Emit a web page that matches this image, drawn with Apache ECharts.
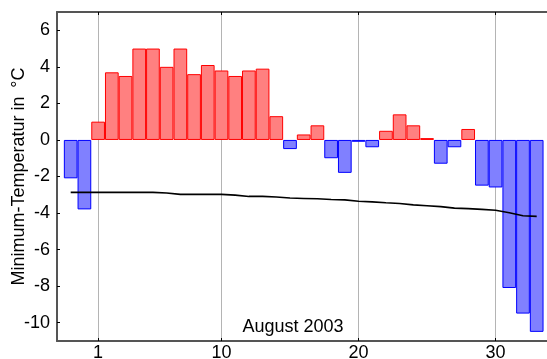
<!DOCTYPE html>
<html>
<head>
<meta charset="utf-8">
<script src="https://cdn.jsdelivr.net/npm/echarts@6/dist/echarts.min.js"></script>
<style>
html,body{margin:0;padding:0;background:#fff;}
#chart{width:547px;height:359px;}
</style>
</head>
<body>
<div id="chart"></div>
<script>
// Days (-1 = 30 July, 0 = 31 July, 1..31 August, 32..33 = 1..2 September)
const days = [-1,0,1,2,3,4,5,6,7,8,9,10,11,12,13,14,15,16,17,18,19,20,21,22,23,24,25,26,27,28,29,30,31,32,33];
// Daily minimum temperature anomaly (°C)
const minTemp = [-2.1,-3.8,1.0,3.7,3.5,5.0,5.0,4.0,5.0,3.6,4.1,3.8,3.5,3.8,3.9,1.3,-0.5,0.3,0.8,-1.0,-1.8,-0.1,-0.4,0.5,1.4,0.8,0.1,-1.3,-0.4,0.6,-2.5,-2.6,-8.1,-9.5,-10.5];
// Reference line (°C)
const refLine = [-2.87,-2.87,-2.87,-2.87,-2.87,-2.87,-2.87,-2.9,-2.98,-2.98,-2.98,-2.98,-3.02,-3.09,-3.09,-3.12,-3.18,-3.2,-3.22,-3.26,-3.28,-3.35,-3.39,-3.44,-3.48,-3.55,-3.6,-3.65,-3.73,-3.76,-3.8,-3.85,-3.98,-4.15,-4.18];
const xTicks = [1,10,20,30];
const yTicks = [-10,-8,-6,-4,-2,0,2,4,6];
const xLabel = 'August 2003';
const yLabel = 'Minimum-Temperatur in \u2009\u00B0C';

const FONT = '"Liberation Sans", Arial, sans-serif';
const chart = echarts.init(document.getElementById('chart'), null, {renderer:'canvas'});

const barData = days.map((d,i) => {
  const v = minTemp[i];
  const pos = v >= 0;
  return {
    value: [d, v],
    itemStyle: {
      color: pos ? '#ff8080' : '#8080ff',
      borderColor: pos ? '#ff0000' : '#0000ff',
      borderWidth: 1
    }
  };
});
const lineData = days.map((d,i) => [d, refLine[i]]);

const axisLineStyle = {color:'#555', width:2};

chart.setOption({
  animation: false,
  grid: {left: 57, top: 12, right: -3.4, bottom: 18, containLabel: false, outerBoundsMode: 'none'},
  xAxis: [{
    type: 'value', position: 'bottom', min: -2, max: 34,
    axisLine: {show: true, onZero: false, lineStyle: axisLineStyle},
    axisTick: {show: true, inside: true, length: 3, customValues: xTicks, lineStyle:{color:'#000'}},
    axisLabel: {customValues: xTicks, color:'#000', fontSize: 18, fontFamily: FONT, margin: 3},
    splitLine: {show: true, lineStyle: {color:'#b4b4b4', width: 1}}
  },{
    type: 'value', position: 'top', min: -2, max: 34,
    axisLine: {show: true, onZero: false, lineStyle: axisLineStyle},
    axisTick: {show: true, inside: true, length: 3, customValues: xTicks, lineStyle:{color:'#000'}},
    axisLabel: {show: false},
    splitLine: {show: false}
  }],
  yAxis: {
    type: 'value', min: -11, max: 7,
    axisLine: {show: true, onZero: false, lineStyle: axisLineStyle},
    axisTick: {show: true, inside: true, length: 3, customValues: yTicks, lineStyle:{color:'#000'}},
    axisLabel: {customValues: yTicks, color:'#000', fontSize: 18, fontFamily: FONT, margin: 7},
    splitLine: {show: false},
    name: yLabel, nameLocation: 'middle', nameGap: 29, nameRotate: 90, nameMoveOverlap: false,
    nameTextStyle: {color:'#000', fontSize: 18, fontFamily: FONT}
  },
  series: [{
    type: 'bar', xAxisIndex: 0, data: barData, barWidth: 13.7, z: 2
  },{
    type: 'line', xAxisIndex: 0, data: lineData, showSymbol: false, symbol: 'none',
    lineStyle: {color:'#000', width: 1.6}, z: 5
  }],
  graphic: [{
    type: 'text', x: 293, y: 327, z: 10,
    style: {text: xLabel, fill:'#000', font: '18px ' + FONT, textAlign:'center', textVerticalAlign:'middle'}
  }]
});
</script>
</body>
</html>
